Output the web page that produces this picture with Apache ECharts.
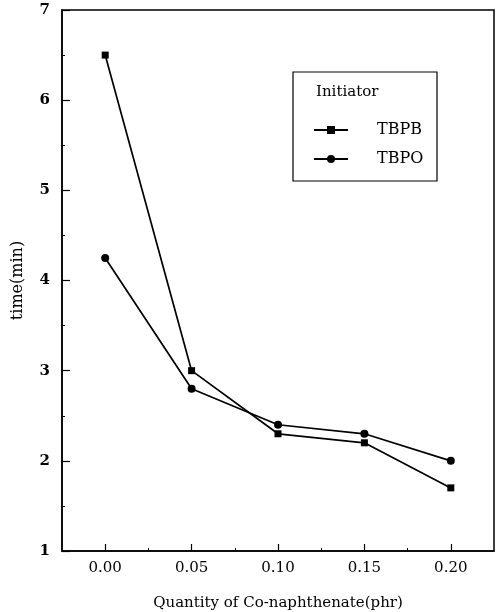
<!DOCTYPE html>
<html><head><meta charset="utf-8">
<script src="https://cdn.jsdelivr.net/npm/echarts@6/dist/echarts.min.js"></script>
<style>html,body{margin:0;padding:0;background:#fff}#c{width:496px;height:612px}</style>
</head><body><div id="c"></div>
<script>
var xValues = [0.00, 0.05, 0.10, 0.15, 0.20];
var tbpb = [6.5, 3.0, 2.3, 2.2, 1.7];
var tbpo = [4.25, 2.8, 2.4, 2.3, 2.0];
var xTickLabels = [0.00, 0.05, 0.10, 0.15, 0.20];
var xMinorTicks = [0.025, 0.075, 0.125, 0.175];
var seriesNames = ['TBPB', 'TBPO'];
var legendTitle = 'Initiator';
var FONT = 'DejaVu Serif';

function pairs(ys){ return xValues.map(function(x,i){ return [x, ys[i]]; }); }

var chart = echarts.init(document.getElementById('c'), null, {renderer:'canvas'});
chart.setOption({
  animation:false,
  backgroundColor:'#fff',
  grid:{left:62,right:2,top:10,bottom:61,show:true,borderColor:'#000',borderWidth:1.5,backgroundColor:'transparent',
    outerBoundsMode:'none',containLabel:false},
  xAxis:[{
    type:'value',min:-0.025,max:0.225,
    name:'Quantity of Co-naphthenate(phr)',nameLocation:'middle',nameGap:45,
    nameTextStyle:{fontFamily:FONT,fontSize:15,color:'#000'},
    axisLine:{show:true,onZero:false,lineStyle:{color:'#000',width:1.5}},
    axisTick:{show:true,inside:true,length:7,customValues:xTickLabels,lineStyle:{color:'#000',width:1.2}},
    axisLabel:{show:true,margin:10,customValues:xTickLabels,fontFamily:FONT,fontSize:15,color:'#000',
      formatter:function(v){return v.toFixed(2);}},
    splitLine:{show:false}
  },{
    type:'value',min:-0.025,max:0.225,position:'bottom',
    axisLine:{show:false},
    axisTick:{show:true,inside:true,length:3,customValues:xMinorTicks,lineStyle:{color:'#000',width:1}},
    axisLabel:{show:false},splitLine:{show:false}
  }],
  yAxis:[{
    type:'value',min:1,max:7,interval:1,
    name:'time(min)',nameLocation:'middle',nameGap:36,
    nameTextStyle:{fontFamily:FONT,fontSize:16,color:'#000'},
    axisLine:{show:true,onZero:false,lineStyle:{color:'#000',width:1.5}},
    axisTick:{show:true,inside:true,length:8,lineStyle:{color:'#000',width:1.2}},
    minorTick:{show:true,splitNumber:2,length:3,lineStyle:{color:'#000',width:1}},
    axisLabel:{margin:12,fontFamily:FONT,fontSize:15,fontWeight:'bold',color:'#000'},
    splitLine:{show:false}
  }],
  legend:{
    orient:'vertical',left:308,top:117,itemWidth:34,itemHeight:10,itemGap:13,
    textStyle:{fontFamily:FONT,fontSize:16,color:'#000',padding:[0,0,0,24]},
    data:seriesNames
  },
  graphic:[
    {type:'rect',shape:{x:293,y:72,width:144,height:109},style:{fill:'#fff',stroke:'#000',lineWidth:1.2},z:-1},
    {type:'text',left:316,top:85,style:{text:legendTitle,fontFamily:FONT,fontSize:15,fill:'#000'}}
  ],
  series:[
    {name:seriesNames[0],type:'line',data:pairs(tbpb),symbol:'rect',symbolSize:7,
     lineStyle:{color:'#000',width:1.7},itemStyle:{color:'#000'}},
    {name:seriesNames[1],type:'line',data:pairs(tbpo),symbol:'circle',symbolSize:8,
     lineStyle:{color:'#000',width:1.7},itemStyle:{color:'#000'}}
  ]
});
</script></body></html>
